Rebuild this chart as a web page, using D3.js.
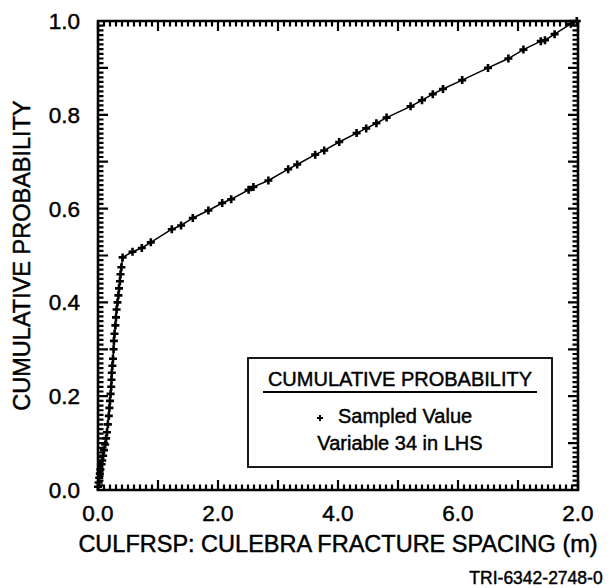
<!DOCTYPE html>
<html>
<head>
<meta charset="utf-8">
<script src="https://cdn.jsdelivr.net/npm/d3@7"></script>
<style>
  body { margin: 0; background: #fff; }
  svg text { font-family: "Liberation Sans", Arial, Helvetica, sans-serif; fill: #000; stroke: #000; stroke-width: 0.45; }
</style>
</head>
<body>
<div id="chart"></div>
<script>
var sampleX = [0.00, 0.01, 0.02, 0.03, 0.04, 0.06, 0.07, 0.085, 0.10, 0.12,
  0.135, 0.15, 0.165, 0.18, 0.19, 0.20, 0.21, 0.22, 0.225, 0.23,
  0.24, 0.25, 0.26, 0.265, 0.275, 0.29, 0.30, 0.31, 0.325, 0.34,
  0.35, 0.365, 0.375, 0.39, 0.41,
  0.575, 0.73, 0.88, 1.23, 1.385, 1.58, 1.84, 2.07, 2.22, 2.51,
  2.59, 2.84, 3.17, 3.32, 3.62, 3.77, 4.02, 4.31, 4.47, 4.64,
  4.81, 5.21, 5.40, 5.58, 5.75, 6.07, 6.50, 6.84, 7.09, 7.38,
  7.45, 7.61, 7.88, 7.98];
var sampleP = [0.007, 0.016, 0.026, 0.035, 0.044, 0.055, 0.063, 0.073, 0.085, 0.097,
  0.11, 0.123, 0.14, 0.158, 0.175, 0.19, 0.205, 0.22, 0.235, 0.25,
  0.265, 0.28, 0.30, 0.318, 0.333, 0.351, 0.368, 0.385, 0.40, 0.415,
  0.43, 0.445, 0.46, 0.475, 0.496,
  0.508, 0.516, 0.528, 0.556, 0.564, 0.580, 0.596, 0.612, 0.620, 0.640,
  0.646, 0.660, 0.684, 0.694, 0.715, 0.724, 0.742, 0.761, 0.771, 0.782,
  0.794, 0.818, 0.831, 0.844, 0.855, 0.874, 0.900, 0.920, 0.939, 0.957,
  0.959, 0.972, 0.994, 1.000];

var xTickValues = [0, 2, 4, 6, 8];
var xTickLabels = ["0.0", "2.0", "4.0", "6.0", "2.0"];   // last label printed as 2.0 in the original
var yTickValues = [0, 0.2, 0.4, 0.6, 0.8, 1.0];
var yTickLabels = ["0.0", "0.2", "0.4", "0.6", "0.8", "1.0"];

var legendTitle = "CUMULATIVE PROBABILITY";
var legendItem = "Sampled Value";
var legendNote = "Variable 34 in LHS";

var width = 616, height = 588;
var margins = {top: 21, right: 38, bottom: 98, left: 98};
var plotW = width - margins.left - margins.right;
var plotH = height - margins.top - margins.bottom;

var svg = d3.select("#chart").append("svg")
  .attr("width", width)
  .attr("height", height);

var g = svg.append("g")
  .attr("transform", "translate(" + margins.left + "," + margins.top + ")");

var xScale = d3.scaleLinear().domain([0, 8]).range([0, plotW]);
var yScale = d3.scaleLinear().domain([0, 1]).range([plotH, 0]);

// tick marks on all four sides, pointing inward
var xMinor = d3.range(0, 81).map(function(i) { return i / 10; });
var yMinor = d3.range(0, 101).map(function(i) { return i / 100; });

function isMajorX(d) { return Math.abs(d - Math.round(d)) < 1e-6; }
function isMajorY(d) { return Math.abs(d * 10 - Math.round(d * 10)) < 1e-6; }

var tickPath = d3.path();
xMinor.forEach(function(d) {
  var len = isMajorX(d) ? 10 : 5.5;
  var px = xScale(d);
  tickPath.moveTo(px, 0); tickPath.lineTo(px, len);
  tickPath.moveTo(px, plotH); tickPath.lineTo(px, plotH - len);
});
yMinor.forEach(function(d) {
  var len = isMajorY(d) ? 10 : 5.5;
  var py = yScale(d);
  tickPath.moveTo(0, py); tickPath.lineTo(len, py);
  tickPath.moveTo(plotW, py); tickPath.lineTo(plotW - len, py);
});

g.append("path")
  .attr("d", tickPath.toString())
  .attr("fill", "none")
  .attr("stroke", "#000")
  .attr("stroke-width", 2.2);

// frame
g.append("path")
  .attr("d", "M0,0H" + plotW + "V" + plotH + "H0Z")
  .attr("fill", "none")
  .attr("stroke", "#000")
  .attr("stroke-width", 2.6);

// tick labels
g.selectAll(".xlab")
  .data(xTickValues)
  .enter().append("text")
  .attr("class", "xlab")
  .attr("x", function(d) { return xScale(d); })
  .attr("y", plotH + 25)
  .attr("text-anchor", "middle")
  .attr("dominant-baseline", "middle")
  .style("font-size", "22.5px")
  .text(function(d, i) { return xTickLabels[i]; });

g.selectAll(".ylab")
  .data(yTickValues)
  .enter().append("text")
  .attr("class", "ylab")
  .attr("x", -18)
  .attr("y", function(d) { return yScale(d) + 2; })
  .attr("text-anchor", "end")
  .attr("dominant-baseline", "middle")
  .style("font-size", "22.5px")
  .text(function(d, i) { return yTickLabels[i]; });

// axis titles
g.append("text")
  .attr("x", plotW / 2)
  .attr("y", plotH + 56)
  .attr("text-anchor", "middle")
  .attr("dominant-baseline", "middle")
  .style("font-size", "23.5px")
  .text("CULFRSP: CULEBRA FRACTURE SPACING (m)");

g.append("text")
  .attr("transform", "translate(" + (-74) + "," + (plotH / 2) + ") rotate(-90)")
  .attr("text-anchor", "middle")
  .attr("dominant-baseline", "middle")
  .style("font-size", "23.5px")
  .text("CUMULATIVE PROBABILITY");

svg.append("text")
  .attr("x", 536)
  .attr("y", 579)
  .attr("text-anchor", "middle")
  .attr("dominant-baseline", "middle")
  .style("font-size", "17.5px")
  .text("TRI-6342-2748-0");

// data line and markers
var points = sampleX.map(function(x, i) { return {x: x, p: sampleP[i]}; });

var line = d3.line()
  .x(function(d) { return xScale(d.x); })
  .y(function(d) { return yScale(d.p); });

g.append("path")
  .datum([{x: 0, p: 0}].concat(points))
  .attr("fill", "none")
  .attr("stroke", "#000")
  .attr("stroke-width", 1.5)
  .attr("d", line);

var plus = "M-4,0H4M0,-4V4";
g.selectAll(".dot")
  .data(points)
  .enter().append("path")
  .attr("class", "dot")
  .attr("transform", function(d) { return "translate(" + xScale(d.x) + "," + yScale(d.p) + ")"; })
  .attr("d", plus)
  .attr("stroke", "#000")
  .attr("stroke-width", 2.6);

// legend box
var legend = svg.append("g").attr("transform", "translate(248,358)");
legend.append("rect")
  .attr("width", 304)
  .attr("height", 109)
  .attr("fill", "#fff")
  .attr("stroke", "#000")
  .attr("stroke-width", 1.8);

legend.append("text")
  .attr("x", 152)
  .attr("y", 23)
  .attr("text-anchor", "middle")
  .attr("dominant-baseline", "middle")
  .style("font-size", "20px")
  .text(legendTitle);

legend.append("line")
  .attr("x1", 15).attr("x2", 289)
  .attr("y1", 34).attr("y2", 34)
  .attr("stroke", "#000")
  .attr("stroke-width", 1.8);

legend.append("path")
  .attr("transform", "translate(72,60)")
  .attr("d", "M-3,0H3M0,-3V3")
  .attr("stroke", "#000")
  .attr("stroke-width", 2);

legend.append("text")
  .attr("x", 90)
  .attr("y", 60)
  .attr("dominant-baseline", "middle")
  .style("font-size", "20px")
  .text(legendItem);

legend.append("text")
  .attr("x", 152)
  .attr("y", 87)
  .attr("text-anchor", "middle")
  .attr("dominant-baseline", "middle")
  .style("font-size", "20px")
  .text(legendNote);
</script>
</body>
</html>
